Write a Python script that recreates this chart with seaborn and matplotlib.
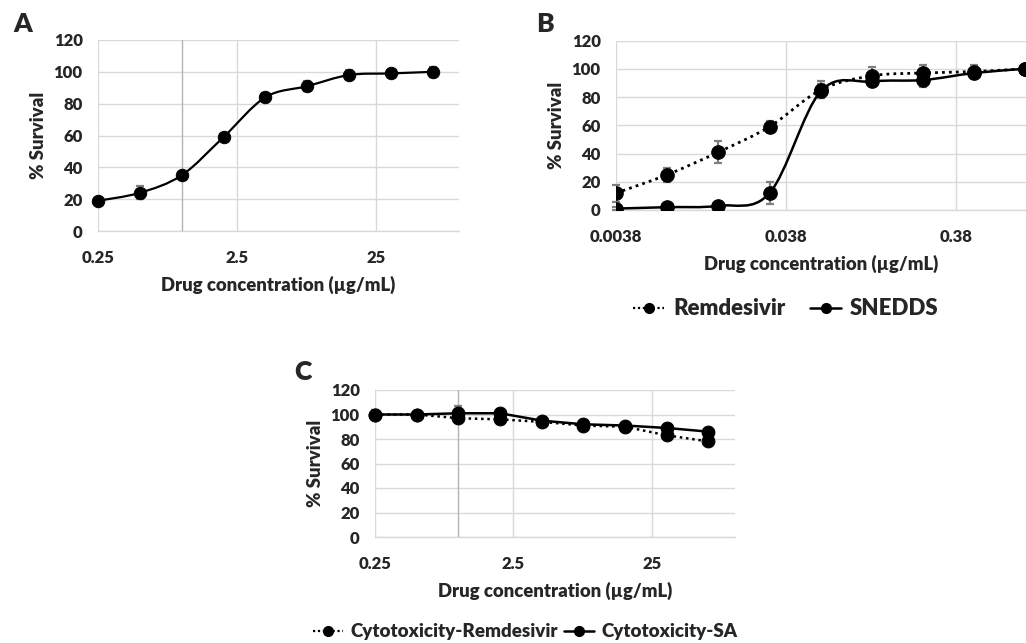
import numpy as np
import matplotlib
matplotlib.use("Agg")
import matplotlib.pyplot as plt
import seaborn as sns
from matplotlib.path import Path
from matplotlib.patches import PathPatch
from matplotlib.lines import Line2D
from matplotlib.ticker import FixedLocator, FixedFormatter, NullLocator

# ---- data -------------------------------------------------------------
conc_a = [0.25, 0.5, 1, 2, 4, 8, 16, 32, 64]
surv_a = [19, 24, 35, 59, 84, 91, 98, 99, 100]
surv_a_err = [2, 4, 2, 2, 3, 3, 3, 2, 3]

conc_b = [0.0038, 0.0076, 0.0152, 0.0304, 0.0608, 0.1216, 0.2432, 0.4864, 0.9728]
remdesivir_b = [12, 25, 41, 59, 85, 95, 97, 98, 100]
remdesivir_b_err = [6, 5, 8, 4, 6, 6, 6, 5, 2]
snedds_b = [1, 2, 3, 12, 84, 91, 92, 97, 100]
snedds_b_err = [1, 1, 1, 7.5, 5, 3, 5, 3, 2]

conc_c = [0.25, 0.5, 1, 2, 4, 8, 16, 32, 64]
cyto_rem_c = [100, 100, 97, 96, 94, 91, 90, 83, 78]
cyto_rem_c_err = [4, 2, 3, 2, 2, 2, 2, 2, 2]
cyto_sa_c = [100, 100, 101, 101, 95, 92, 91, 89, 86]
cyto_sa_c_err = [4, 3, 6, 2, 2, 2, 2, 2, 3]

ticks_ac = [0.25, 2.5, 25]
ticklabels_ac = ["0.25", "2.5", "25"]
ticks_b = [0.0038, 0.038, 0.38]
ticklabels_b = ["0.0038", "0.038", "0.38"]
y_ticks = [0, 20, 40, 60, 80, 100, 120]

# ---- style ------------------------------------------------------------
sns.set_theme(style="white")
plt.rcParams["font.family"] = ["Lato", "DejaVu Sans"]
WEIGHT = "heavy"
plt.rcParams["font.weight"] = WEIGHT

W, H = 1026, 643
fig = plt.figure(figsize=(W / 100, H / 100), dpi=100)
fig.patch.set_facecolor("white")

GRID = "#d9d9d9"
ERR = "#7f7f7f"
DOT = (0, (1, 1.5))
TICK_FS = 12
LABEL_FS = 13.3


def px_axes(left, top, right, bottom):
    """Create axes from pixel box (left, top, right, bottom)."""
    return fig.add_axes([left / W, 1 - bottom / H, (right - left) / W, (bottom - top) / H])


def smooth_path(x, y):
    """Excel-like smoothed line: cubic Bezier segments through the points (log-x)."""
    u = np.log10(np.asarray(x, float))
    y = np.asarray(y, float)
    n = len(u)
    verts = [(x[0], y[0])]
    codes = [Path.MOVETO]
    for i in range(n - 1):
        i0, i3 = max(i - 1, 0), min(i + 2, n - 1)
        c1 = (10 ** (u[i] + (u[i + 1] - u[i0]) / 6), y[i] + (y[i + 1] - y[i0]) / 6)
        c2 = (10 ** (u[i + 1] - (u[i3] - u[i]) / 6), y[i + 1] - (y[i3] - y[i]) / 6)
        verts += [c1, c2, (x[i + 1], y[i + 1])]
        codes += [Path.CURVE4] * 3
    return Path(verts, codes)


def style_axes(ax, ticks, labels, xlim, width_px, height_px):
    ax.set_xscale("log")
    ax.set_xlim(*xlim)
    ax.set_ylim(0, 120)
    ax.xaxis.set_major_locator(FixedLocator(ticks))
    ax.xaxis.set_major_formatter(FixedFormatter(labels))
    ax.xaxis.set_minor_locator(NullLocator())
    ax.set_yticks(y_ticks)
    ax.grid(True, color=GRID, lw=1.0, zorder=0)
    ax.set_axisbelow(True)
    for s in ("left", "top", "right"):
        ax.spines[s].set_visible(False)
    ax.spines["bottom"].set_color(GRID)
    ax.spines["bottom"].set_linewidth(1.0)
    ax.tick_params(axis="y", length=0, labelsize=TICK_FS, pad=11)
    ax.tick_params(axis="x", length=0, labelsize=TICK_FS, pad=14)
    for t in ax.get_xticklabels() + ax.get_yticklabels():
        t.set_fontweight(WEIGHT)
    ax.set_xlabel("Drug concentration (µg/mL)", fontsize=LABEL_FS, fontweight=WEIGHT)
    ax.set_ylabel("% Survival", fontsize=LABEL_FS, fontweight=WEIGHT)
    ax.yaxis.set_label_coords(-51 / width_px, 0.5)
    ax.xaxis.set_label_coords(0.5, -45 / height_px)


def markers(ax, x, y, err, size=80):
    ax.errorbar(x, y, yerr=err, fmt="none", ecolor=ERR, elinewidth=1.6,
                capsize=3, capthick=1.6, zorder=3, clip_on=False)
    sns.scatterplot(x=x, y=y, ax=ax, color="black", edgecolor="black", s=size,
                    zorder=5, clip_on=False, legend=False)


# ---- panel A ----------------------------------------------------------
axA = px_axes(98, 40, 459, 231)
style_axes(axA, ticks_ac, ticklabels_ac, (0.25, 99), 361, 191)
axA.axvline(1, color="#b3b3b3", lw=1.0, zorder=1)
axA.add_patch(PathPatch(smooth_path(conc_a, surv_a), fc="none", ec="black", lw=1.6, zorder=4))
markers(axA, conc_a, surv_a, surv_a_err)

# ---- panel B ----------------------------------------------------------
axB = px_axes(616, 40.5, 1026, 210)
style_axes(axB, ticks_b, ticklabels_b, (0.0038, 0.98), 410, 169.5)
axB.add_patch(PathPatch(smooth_path(conc_b, remdesivir_b), fc="none", ec="black",
                        lw=2.0, ls=DOT, zorder=4))
axB.add_patch(PathPatch(smooth_path(conc_b, snedds_b), fc="none", ec="black", lw=1.8, zorder=4))
markers(axB, conc_b, remdesivir_b, remdesivir_b_err, size=95)
markers(axB, conc_b, snedds_b, snedds_b_err, size=95)
for coll in axB.collections:
    coll.set_clip_on(True)

# ---- panel C ----------------------------------------------------------
axC = px_axes(375, 390, 735, 537)
style_axes(axC, ticks_ac, ticklabels_ac, (0.25, 99.5), 360, 147)
axC.axvline(1, color="#b3b3b3", lw=1.0, zorder=1)
sns.lineplot(x=conc_c, y=cyto_rem_c, ax=axC, color="black", lw=1.8, linestyle=DOT,
             estimator=None, sort=False, zorder=4)
sns.lineplot(x=conc_c, y=cyto_sa_c, ax=axC, color="black", lw=1.8,
             estimator=None, sort=False, zorder=4)
markers(axC, conc_c, cyto_rem_c, cyto_rem_c_err, size=85)
markers(axC, conc_c, cyto_sa_c, cyto_sa_c_err, size=85)

# ---- legends ----------------------------------------------------------
h_dot = Line2D([], [], color="black", lw=1.6, ls=(0, (1, 1.2)), marker="o", ms=7)
h_solid = Line2D([], [], color="black", lw=1.8, marker="o", ms=7)
fig.legend([h_dot, h_solid], ["Remdesivir", "SNEDDS"], loc="center",
           bbox_to_anchor=(786 / W, 1 - 309 / H), ncol=2, frameon=False,
           prop={"size": 16, "weight": WEIGHT},
           handlelength=1.4, handletextpad=0.4, columnspacing=1.1)
fig.legend([h_dot, h_solid], ["Cytotoxicity-Remdesivir", "Cytotoxicity-SA"], loc="center",
           bbox_to_anchor=(525 / W, 1 - 632 / H), ncol=2, frameon=False,
           prop={"size": 13.5, "weight": WEIGHT},
           handlelength=1.6, handletextpad=0.4, columnspacing=0.3)

# ---- panel letters ----------------------------------------------------
for letter, (x, y) in {"A": (23, 24), "B": (545, 24), "C": (303, 372)}.items():
    fig.text(x / W, 1 - y / H, letter, fontsize=19, fontweight=WEIGHT, ha="center", va="center")

fig.savefig("out.png", dpi=100, facecolor="white")
